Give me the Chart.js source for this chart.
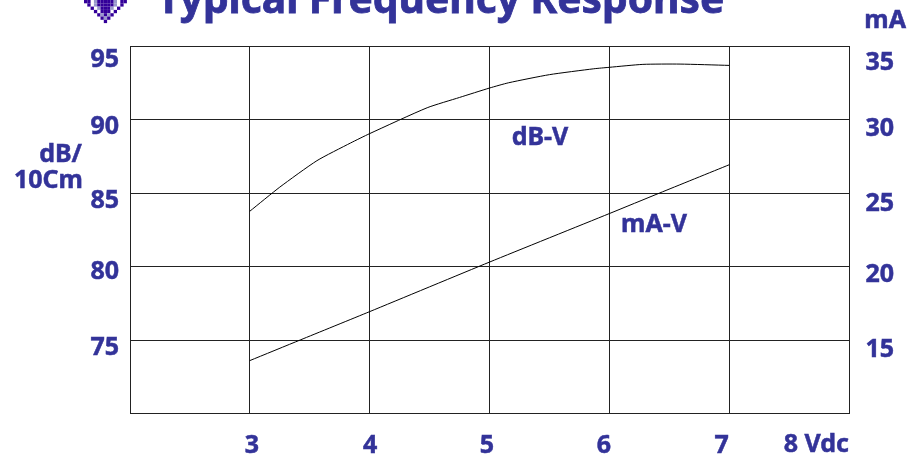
<!DOCTYPE html>
<html>
<head>
<meta charset="utf-8">
<title>Typical Frequency Response</title>
<script src="https://cdn.jsdelivr.net/npm/chart.js@4"></script>
<style>
  html, body { margin: 0; padding: 0; background: #fff; }
  canvas { display: block; }
</style>
</head>
<body>
<canvas id="chart" width="918" height="455"></canvas>
<script>
/* ── DATA ───────────────────────────────────────── */
const dbVolts = [3, 3.25, 3.56, 3.84, 4, 4.48, 4.75, 5, 5.16, 5.5, 5.87, 6, 6.28, 6.59, 7];
const dbValues = [83.76, 85.4, 87.2, 88.4, 89.04, 90.8, 91.5, 92.14, 92.5, 93.05, 93.45, 93.55, 93.75, 93.77, 93.68];
const maVolts = [3, 3.42, 4, 5, 6, 6.42, 7];
const maValues = [13.6, 15, 16.93, 20.3, 23.6, 25, 26.92];
const dbTicks = [95, 90, 85, 80, 75];
const maTicks = [35, 30, 25, 20, 15];
const voltTicks = [3, 4, 5, 6, 7];

/* ── STYLE ──────────────────────────────────────── */
const INK = "#333399";
const FONT = "'Noto Sans', sans-serif";
const tickFont = `bold 25px ${FONT}`;
const labelFont = `bold 25px ${FONT}`;

// the printed labels sit a little off their grid lines, and not evenly
const dbNudge = [13.5, 7, 8, 5.5, 7.5];
const maNudge = [16.5, 9.5, 10.5, 8, 9.5];
const voltNudge = [2, 0.5, -2.5, -5.5, -7.5];

const logoRows = [
  "##.+#####+.##",
  ".#.+#####+.#.",
  "..#.+###+.#..",
  "...#.###.#...",
  "....#+#+#....",
  ".....#+#.....",
  "......#......",
];

/* ── TEXT + LOGO ────────────────────────────────── */
function put(ctx, text, x, y, font, align) {
  ctx.font = font;
  ctx.textAlign = align;
  ctx.textBaseline = "middle";
  ctx.fillText(text, x, y);
  ctx.strokeText(text, x, y); // the scan's type is heavier than Noto bold
}

const printedText = {
  id: "printedText",
  afterDraw(chart) {
    const { ctx, scales } = chart;
    ctx.save();
    ctx.fillStyle = INK;
    ctx.strokeStyle = INK;
    ctx.lineWidth = 0.5;

    dbTicks.forEach((v, i) => {
      put(ctx, String(v), 119, scales.y.getPixelForValue(v) + dbNudge[i], tickFont, "right");
    });
    maTicks.forEach((v, i) => {
      put(ctx, String(v), 894, scales.yMa.getPixelForValue(v) + maNudge[i], tickFont, "right");
    });
    voltTicks.forEach((v, i) => {
      put(ctx, String(v), scales.x.getPixelForValue(v) + voltNudge[i], 446, tickFont, "center");
    });

    put(ctx, "8 Vdc", 849, 444.5, labelFont, "right");
    put(ctx, "mA", 906, 21, labelFont, "right");
    put(ctx, "dB/", 82, 154.5, labelFont, "right");
    put(ctx, "10Cm", 83, 180.5, labelFont, "right");
    put(ctx, "dB-V", 540, 137.5, labelFont, "center");
    put(ctx, "mA-V", 654, 224.5, labelFont, "center");

    ctx.font = `bold 40.7px ${FONT}`;
    ctx.textAlign = "left";
    ctx.textBaseline = "alphabetic";
    ctx.lineWidth = 0.8;
    ctx.fillText("Typical Frequency Response", 157, 13);
    ctx.strokeText("Typical Frequency Response", 157, 13);

    logoRows.forEach((row, r) => {
      [...row].forEach((c, k) => {
        if (c === ".") return;
        ctx.fillStyle = c === "#" ? "#330099" : "#9999cc";
        ctx.fillRect(84 + k * 3.3, r * 3.3, 3.3, 3.3);
      });
    });
    ctx.restore();
  },
};

/* ── CHART ──────────────────────────────────────── */
const toPoints = (xs, ys) => xs.map((x, i) => ({ x, y: ys[i] }));
const curve = (label, data, yAxisID) => ({
  label,
  data,
  yAxisID,
  borderColor: "#000",
  borderWidth: 1,
  pointRadius: 0,
  tension: 0.2,
  fill: false,
});

new Chart(document.getElementById("chart"), {
  type: "line",
  data: {
    datasets: [
      curve("dB-V", toPoints(dbVolts, dbValues), "y"),
      curve("mA-V", toPoints(maVolts, maValues), "yMa"),
    ],
  },
  options: {
    responsive: false,
    animation: false,
    layout: { padding: { left: 130, right: 69, top: 46, bottom: 41.5 } },
    plugins: { legend: { display: false }, title: { display: false }, tooltip: { enabled: false } },
    scales: {
      x: {
        type: "linear",
        min: 2,
        max: 8,
        ticks: { display: false, stepSize: 1 },
        grid: { color: "#222", lineWidth: 1, drawTicks: false },
        border: { color: "#222", width: 1 },
      },
      y: {
        min: 70,
        max: 95,
        ticks: { display: false, stepSize: 5 },
        grid: { color: "#222", lineWidth: 1, drawTicks: false },
        border: { color: "#222", width: 1 },
      },
      yMa: {
        position: "right",
        min: 10,
        max: 35,
        ticks: { display: false, stepSize: 5 },
        grid: { display: false, drawTicks: false },
        border: { color: "#222", width: 1 },
      },
    },
  },
  plugins: [printedText],
});
</script>
</body>
</html>
